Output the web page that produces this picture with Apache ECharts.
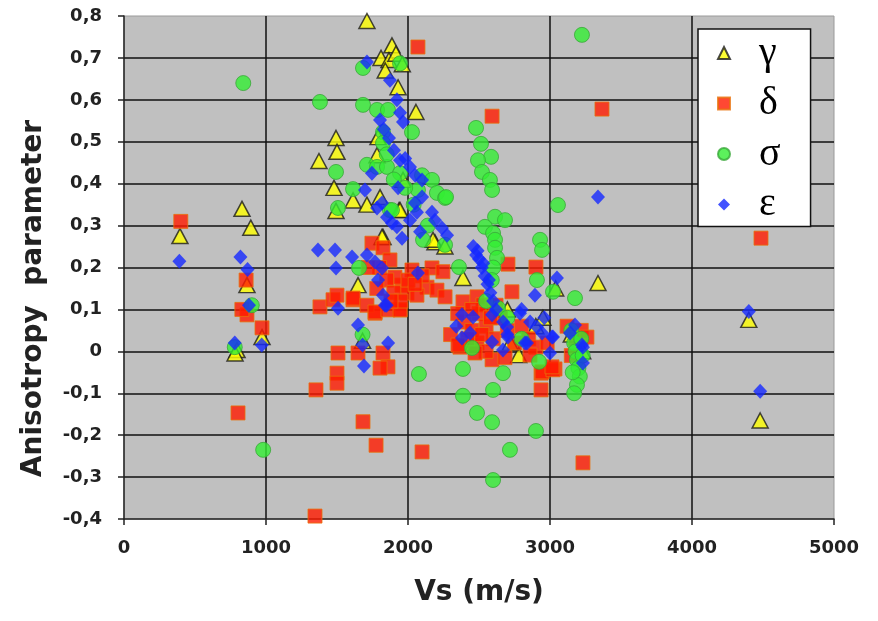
<!DOCTYPE html>
<html><head><meta charset="utf-8">
<script src="https://cdn.jsdelivr.net/npm/echarts@6.0.0/dist/echarts.min.js"></script>
<style>html,body{margin:0;padding:0;background:#fff}#c{width:878px;height:621px}</style>
</head><body><div id="c"></div>
<script>
var seriesNames = ['γ', 'δ', 'σ', 'ε'];
var xTicks = [0, 1000, 2000, 3000, 4000, 5000];
var yTicks = [-0.4, -0.3, -0.2, -0.1, 0, 0.1, 0.2, 0.3, 0.4, 0.5, 0.6, 0.7, 0.8];

var gammaData = [
 [394,0.275],[831,0.34],[893,0.295],[866,0.158],[796,0.003],[782,-0.005],[972,0.034],
 [1711,0.788],[1887,0.73],[1810,0.70],[1866,0.695],[1915,0.71],[1930,0.63],[2056,0.571],[1960,0.685],[1840,0.67],
 [1493,0.509],[1500,0.476],[1373,0.454],[1479,0.39],[1613,0.36],[1711,0.35],[1937,0.337],[1824,0.273],[1648,0.158],[2190,0.26],
 [1493,0.335],[1782,0.468],[1789,0.511],[1965,0.409],[1944,0.337],[1803,0.368],[2176,0.266],[1817,0.273],
 [2387,0.175],[3338,0.163],[4400,0.075],[4480,-0.165],
 [2900,0.06],[2780,-0.009],[3040,0.15],[2260,0.25],[2460,0.02],[3150,0.04],[3230,0.0],[2720,0.02],[2950,0.08],[2700,0.1],[1680,0.025]
];
var deltaData = [
 [400,0.31],[860,0.17],[866,0.087],[830,0.1],[972,0.056],[803,-0.147],
 [1380,0.106],[1507,-0.004],[1500,-0.052],[1500,-0.076],[1352,-0.092],[1683,-0.168],[1775,-0.224],[2099,-0.24],[1345,-0.393],
 [1648,-0.004],[1824,-0.004],[1859,-0.037],[1803,-0.04],[1944,0.099],[1768,0.091],[1613,0.123],[1472,0.123],
 [1746,0.258],[1824,0.247],[1873,0.218],[2028,0.194],[2169,0.199],[2246,0.19],[2134,0.153],[1958,0.158],[1908,0.177],
 [1993,0.139],[2063,0.134],[2204,0.146],[2261,0.13],[1500,0.134],[1613,0.127],[1711,0.11],[1768,0.094],[1859,0.099],[1944,0.099],
 [1800,0.2],[1850,0.17],[1900,0.14],[2000,0.17],[2100,0.18],[1950,0.12],[2050,0.16],[1880,0.12],[1780,0.15],[1720,0.2],
 [2070,0.726],[2592,0.561],[3366,0.578],[4486,0.27],[3232,-0.266],
 [2704,0.208],[2901,0.201],[2732,0.142],[2387,0.118],[2486,0.13],[2528,0.111],
 [2937,-0.052],[2937,-0.092],[3035,-0.042],
 [2366,0.01],[2592,-0.02],[2683,-0.015],[2944,-0.049],[3021,-0.044],[2486,0.02],
 [2400,0.07],[2450,0.05],[2500,0.09],[2550,0.06],[2600,0.03],[2650,0.08],[2700,0.05],[2750,0.02],[2800,0.06],[2850,0.03],
 [2900,0.01],[2550,0.0],[2450,0.1],[2620,0.11],[2420,0.03],[3120,0.06],[3180,0.03],[3220,0.05],[3150,-0.01],[2980,0.02],
 [2300,0.04],[2350,0.09],[2520,0.04],[2580,0.08],[2352,0.015],[2472,-0.004],[2859,-0.009],[3014,-0.037],[3260,0.034]
];
var sigmaData = [
 [840,0.64],[900,0.11],[980,-0.235],[780,0.01],
 [1380,0.595],[1493,0.428],[1613,0.387],[1507,0.342],[1655,0.199],
 [1683,0.676],[1944,0.687],[1683,0.588],[1782,0.576],[1859,0.576],[2028,0.523],[1824,0.523],[1824,0.497],[1711,0.445],
 [1782,0.44],[1852,0.44],[1944,0.425],[2099,0.42],[2169,0.409],[2204,0.378],[1873,0.337],[2106,0.266],[1887,0.337],
 [2070,0.385],[2261,0.366],[2261,0.254],[1850,0.47],[1900,0.41],[1980,0.39],[2140,0.3],[2040,0.35],[1680,0.04],
 [2077,-0.054],
 [3225,0.755],[2479,0.533],[2514,0.495],[2585,0.464],[2493,0.456],[2521,0.428],[2577,0.409],[2592,0.385],[2268,0.368],
 [3056,0.349],[2613,0.321],[2683,0.313],[2542,0.297],[2599,0.282],[2613,0.266],[2613,0.247],[2930,0.266],[2944,0.242],
 [2627,0.223],[2359,0.201],[2908,0.170],[3021,0.142],[3176,0.127],[2600,0.2],[2590,0.17],[2634,0.103],
 [2387,-0.042],[2669,-0.052],[2387,-0.106],[2599,-0.092],[2486,-0.147],[2592,-0.169],[2901,-0.19],[2718,-0.235],
 [2599,-0.307],[2451,0.008],[2923,-0.025],
 [3150,0.05],[3170,0.02],[3180,0.0],[3190,-0.02],[3200,-0.04],[3210,-0.06],[3190,-0.08],[3170,-0.1],[3220,0.03],
 [3160,-0.05],[3230,-0.01],[2800,0.03],[2700,0.08],[2550,0.12]
];
var epsilonData = [
 [390,0.215],[820,0.225],[870,0.195],[880,0.11],[780,0.02],[970,0.015],
 [1366,0.242],[1486,0.242],[1493,0.199],[1606,0.225],[1711,0.23],[1768,0.213],[1817,0.199],[1789,0.17],[1824,0.134],
 [1838,0.11],[1507,0.103],[1648,0.063],[2070,0.187],[1680,0.015],[1690,-0.035],[1860,0.02],[1850,0.11],
 [1746,0.425],[1697,0.385],[1930,0.39],[2099,0.409],[2099,0.368],[2049,0.354],[1782,0.342],[1817,0.354],[1852,0.32],
 [1887,0.306],[1922,0.297],[1958,0.27],[2014,0.313],[2063,0.332],[2169,0.332],[2190,0.313],[2239,0.294],[2085,0.285],[2275,0.277],
 [1711,0.69],[1873,0.647],[1922,0.6],[1944,0.569],[1965,0.547],[1803,0.552],[1866,0.509],[1901,0.48],[1944,0.456],
 [2014,0.44],[2050,0.42],[1980,0.46],[1830,0.53],
 [2460,0.25],[2480,0.23],[2500,0.22],[2520,0.2],[2540,0.18],[2560,0.16],[2580,0.14],[2600,0.12],[2620,0.10],
 [2670,0.07],[2700,0.04],[2490,0.24],[2530,0.21],[2570,0.17],
 [3049,0.175],[2894,0.134],[3338,0.368],[4400,0.095],[4480,-0.095],
 [2380,0.032],[2437,0.044],[2592,0.022],[2669,0.003],[2704,0.034],[2838,0.02],[2944,0.044],[3000,-0.004],[3021,0.034],
 [3141,0.044],[3225,0.015],[3232,-0.028],[2380,0.087],[2458,0.082],[2592,0.087],[2697,0.058],[2789,0.091],[2824,0.02],
 [2908,0.058],[3176,0.063],[3232,0.01],[3014,0.034],[2800,0.1],[2860,0.07],[2340,0.06],[2960,0.08]
];

var chart = echarts.init(document.getElementById('c'), null, {renderer: 'canvas'});
var labelFont = {fontFamily: 'DejaVu Sans', fontWeight: 'bold', fontSize: 18, color: '#222'};
var titleFont = {fontFamily: 'DejaVu Sans', fontWeight: 'bold', fontSize: 28, color: '#222'};
var option = {
  animation: false,
  backgroundColor: '#fff',
  grid: {left: 124, right: 44, top: 16, bottom: 102, show: true, backgroundColor: '#c0c0c0', borderColor: '#9a9a9a', borderWidth: 1},
  legend: {
    orient: 'vertical', left: 698, top: 29,
    backgroundColor: '#fff', borderColor: '#111', borderWidth: 1.5,
    padding: [4, 30, 2, 19], itemGap: 10.5, itemWidth: 12, itemHeight: 12,
    textStyle: {fontFamily: 'Liberation Serif', fontSize: 40, color: '#000', padding: [0, 0, 0, 24]},
    data: seriesNames
  },
  xAxis: {
    type: 'value', min: xTicks[0], max: xTicks[xTicks.length - 1], interval: 1000,
    name: 'Vs (m/s)', nameLocation: 'middle', nameGap: 60,
    nameTextStyle: titleFont,
    axisLine: {onZero: false, lineStyle: {color: '#222', width: 1.5}},
    axisTick: {show: true, length: 6, lineStyle: {color: '#222', width: 1.5}},
    axisLabel: Object.assign({margin: 20, formatter: function (v) { return String(v); }}, labelFont),
    splitLine: {show: true, showMinLine: false, showMaxLine: false, lineStyle: {color: '#111', width: 1.5}}
  },
  yAxis: {
    type: 'value', min: yTicks[0], max: yTicks[yTicks.length - 1], interval: 0.1,
    name: 'Anisotropy  parameter', nameLocation: 'middle', nameGap: 76,
    nameTextStyle: Object.assign({padding: [0, 62, 0, 0]}, titleFont),
    axisLine: {onZero: false, lineStyle: {color: '#222', width: 1.5}},
    axisTick: {show: true, length: 6, lineStyle: {color: '#222', width: 1.5}},
    axisLabel: Object.assign({margin: 22, formatter: function (v) {
      var r = Math.round(v * 10) / 10;
      return r === 0 ? '0' : r.toFixed(1).replace('.', ',');
    }}, labelFont),
    splitLine: {show: true, showMinLine: false, showMaxLine: false, lineStyle: {color: '#111', width: 1.5}}
  },
  series: [
    {name: seriesNames[0], type: 'scatter', data: gammaData, symbol: 'triangle', symbolSize: [16, 15],
     itemStyle: {color: '#ffff00', borderColor: '#1a1a1a', borderWidth: 1.5}, z: 2},
    {name: seriesNames[1], type: 'scatter', data: deltaData, symbol: 'rect', symbolSize: 14,
     itemStyle: {color: '#ff1a00', borderColor: '#e8700a', borderWidth: 1}, z: 3},
    {name: seriesNames[2], type: 'scatter', data: sigmaData, symbol: 'circle', symbolSize: 15,
     itemStyle: {color: '#33ee33', borderColor: '#3aa83a', borderWidth: 1}, z: 4},
    {name: seriesNames[3], type: 'scatter', data: epsilonData, symbol: 'diamond', symbolSize: [14, 15],
     itemStyle: {color: '#1428ff'}, z: 5}
  ]
};
chart.setOption(option);
</script></body></html>
